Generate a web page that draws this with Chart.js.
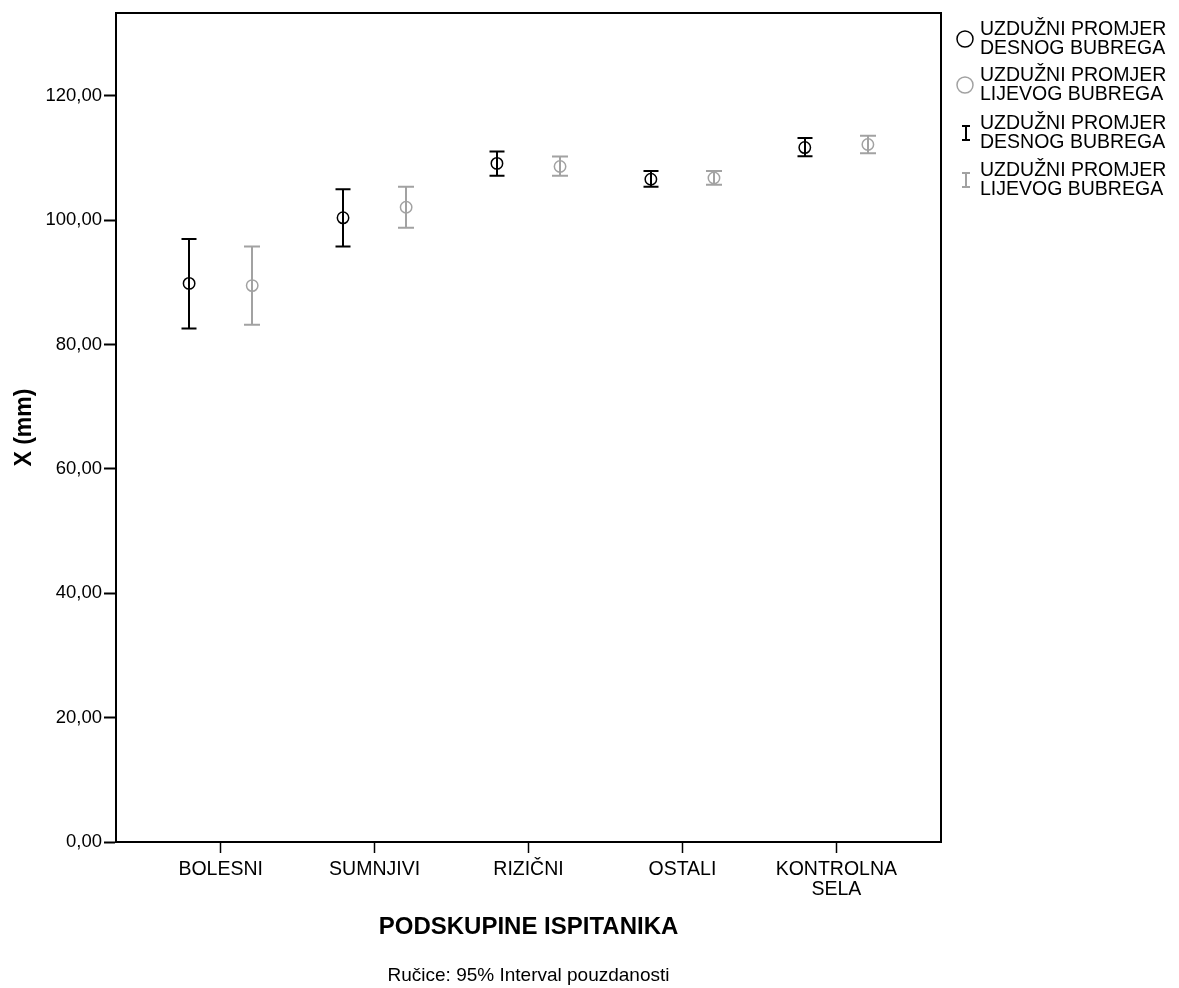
<!DOCTYPE html>
<html>
<head>
<meta charset="utf-8">
<script src="https://cdn.jsdelivr.net/npm/chart.js@4/dist/chart.umd.min.js"></script>
<style>
  html, body { margin: 0; padding: 0; background: #fff; }
  canvas { display: block; }
</style>
</head>
<body>
<canvas id="chart" width="1179" height="988"></canvas>
<script>
// groups on the x axis
const categories = ['BOLESNI', 'SUMNJIVI', 'RIZIČNI', 'OSTALI', ['KONTROLNA', 'SELA']];

// right kidney: mean and 95% CI
const desniMean = [89.85, 100.4, 109.15, 106.6, 111.7];
const desniLow  = [82.6, 95.8, 107.15, 105.4, 110.3];
const desniHigh = [97.0, 105.0, 111.05, 107.95, 113.25];

// left kidney: mean and 95% CI
const lijeviMean = [89.5, 102.1, 108.65, 106.8, 112.2];
const lijeviLow  = [83.2, 98.8, 107.15, 105.7, 110.8];
const lijeviHigh = [95.8, 105.4, 110.25, 107.95, 113.6];

const yTicks = [0, 20, 40, 60, 80, 100, 120];

const seriesNames = [['UZDUŽNI PROMJER', 'DESNOG BUBREGA'], ['UZDUŽNI PROMJER', 'LIJEVOG BUBREGA']];
const footnote = 'Ručice: 95% Interval pouzdanosti';

const FONT = "'Liberation Sans', Arial, sans-serif";
const BLACK = '#000000';
const GREY = '#a2a2a2';
const SHIFT = 0.205;

const series = [
  { mean: desniMean, low: desniLow, high: desniHigh, color: BLACK, shift: -SHIFT, cap: 15 },
  { mean: lijeviMean, low: lijeviLow, high: lijeviHigh, color: GREY, shift: SHIFT, cap: 16 }
];

const errorBars = {
  id: 'errorBars',
  afterDatasetsDraw(chart) {
    const { ctx, scales: { x, y } } = chart;
    ctx.save();
    ctx.lineWidth = 2;
    series.forEach((s) => {
      ctx.strokeStyle = s.color;
      s.mean.forEach((_, i) => {
        const px = Math.round(x.getPixelForValue(i + 1 + s.shift));
        const top = y.getPixelForValue(s.high[i]);
        const bot = y.getPixelForValue(s.low[i]);
        ctx.beginPath();
        ctx.moveTo(px, top); ctx.lineTo(px, bot);
        ctx.moveTo(px - s.cap / 2, top); ctx.lineTo(px + s.cap / 2, top);
        ctx.moveTo(px - s.cap / 2, bot); ctx.lineTo(px + s.cap / 2, bot);
        ctx.stroke();
      });
    });
    ctx.restore();
  }
};

// top and right edges of the plot box, plus the footnote under the axis title
const frame = {
  id: 'frame',
  afterDraw(chart) {
    const { ctx, chartArea: a } = chart;
    ctx.save();
    ctx.strokeStyle = BLACK;
    ctx.lineWidth = 2;
    ctx.beginPath();
    ctx.moveTo(a.left, a.top); ctx.lineTo(a.right, a.top); ctx.lineTo(a.right, a.bottom);
    ctx.stroke();
    ctx.fillStyle = BLACK;
    ctx.font = '19px ' + FONT;
    ctx.textAlign = 'center';
    ctx.textBaseline = 'middle';
    ctx.fillText(footnote, (a.left + a.right) / 2, 976);
    ctx.restore();
  }
};

// legend: two circles for means, two I-beams for CI whiskers
const sideLegend = {
  id: 'sideLegend',
  afterDraw(chart) {
    const ctx = chart.ctx;
    const items = [
      { kind: 'circle', color: BLACK, text: seriesNames[0], y: 30 },
      { kind: 'circle', color: GREY, text: seriesNames[1], y: 76 },
      { kind: 'beam', color: BLACK, text: seriesNames[0], y: 124 },
      { kind: 'beam', color: GREY, text: seriesNames[1], y: 171 }
    ];
    ctx.save();
    ctx.font = '19.5px ' + FONT;
    ctx.textBaseline = 'middle';
    ctx.textAlign = 'left';
    items.forEach((it) => {
      ctx.strokeStyle = it.color;
      if (it.kind === 'circle') {
        ctx.lineWidth = 1.5;
        ctx.beginPath();
        ctx.arc(965, it.y + 9, 8, 0, Math.PI * 2);
        ctx.stroke();
      } else {
        ctx.lineWidth = 2;
        const cy = it.y + 9;
        ctx.beginPath();
        ctx.moveTo(966, cy - 7); ctx.lineTo(966, cy + 7);
        ctx.moveTo(962, cy - 7); ctx.lineTo(970, cy - 7);
        ctx.moveTo(962, cy + 7); ctx.lineTo(970, cy + 7);
        ctx.stroke();
      }
      ctx.fillStyle = BLACK;
      ctx.fillText(it.text[0], 980, it.y);
      ctx.fillText(it.text[1], 980, it.y + 19);
    });
    ctx.restore();
  }
};

const pointSet = (s, label) => ({
  label,
  data: s.mean.map((v, i) => ({ x: i + 1 + s.shift, y: v })),
  showLine: false,
  pointStyle: 'circle',
  pointRadius: 5.7,
  pointBorderWidth: 1.5,
  borderColor: s.color,
  backgroundColor: 'rgba(0,0,0,0)',
  pointHoverRadius: 5.7
});

new Chart(document.getElementById('chart'), {
  type: 'scatter',
  data: {
    datasets: [
      pointSet(series[0], seriesNames[0].join(' ')),
      pointSet(series[1], seriesNames[1].join(' '))
    ]
  },
  options: {
    responsive: false,
    animation: false,
    layout: { padding: { left: 0, right: 238, top: 12, bottom: 0 } },
    plugins: {
      legend: { display: false },
      tooltip: { enabled: false },
      title: { display: false }
    },
    scales: {
      x: {
        type: 'linear',
        min: 0.32,
        max: 5.68,
        afterBuildTicks: (scale) => { scale.ticks = categories.map((_, i) => ({ value: i + 1 })); },
        afterFit: (scale) => { scale.height = 146; },
        ticks: {
          color: BLACK,
          font: { family: FONT, size: 19.5, lineHeight: 1.05 },
          padding: 6,
          maxRotation: 0,
          autoSkip: false,
          callback: (v) => categories[Math.round(v) - 1]
        },
        grid: { drawOnChartArea: false, drawTicks: true, tickLength: 11, tickColor: BLACK, tickWidth: 1.5 },
        border: { display: true, color: BLACK, width: 2 },
        title: {
          display: true,
          text: 'PODSKUPINE ISPITANIKA',
          color: BLACK,
          font: { family: FONT, size: 24, weight: 'bold', lineHeight: 1.2 },
          padding: { top: 0, bottom: 46.6 }
        }
      },
      y: {
        min: 0,
        max: 133.33,
        afterBuildTicks: (scale) => { scale.ticks = yTicks.map((v) => ({ value: v })); },
        afterFit: (scale) => { scale.width = 116; },
        ticks: {
          color: BLACK,
          font: { family: FONT, size: 18.5 },
          padding: 2,
          callback: (v) => v.toFixed(2).replace('.', ',')
        },
        grid: { drawOnChartArea: false, drawTicks: true, tickLength: 12, tickColor: BLACK, tickWidth: 2 },
        border: { display: true, color: BLACK, width: 2 },
        title: {
          display: true,
          text: 'X (mm)',
          color: BLACK,
          font: { family: FONT, size: 23, weight: 'bold', lineHeight: 1.2 },
          padding: { top: 11.2, bottom: 0 }
        }
      }
    }
  },
  plugins: [errorBars, frame, sideLegend]
});
</script>
</body>
</html>
